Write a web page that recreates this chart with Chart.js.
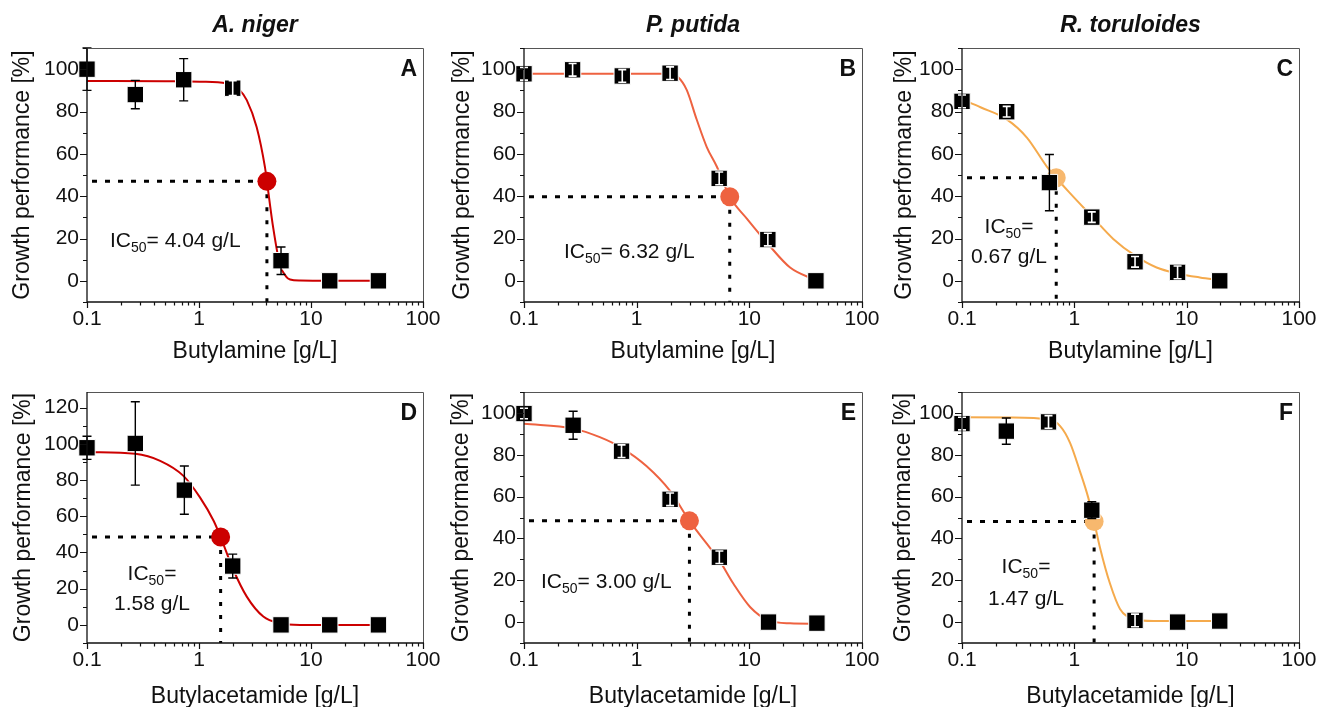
<!DOCTYPE html>
<html><head><meta charset="utf-8">
<script src="https://cdn.jsdelivr.net/npm/chart.js@4.4.1/dist/chart.umd.min.js"></script>
<style>
html,body{margin:0;padding:0;background:#fff;overflow:hidden;width:1319px;height:707px;position:relative;}
canvas{position:absolute;}
</style></head><body>
<canvas id="cA"></canvas><canvas id="cB"></canvas><canvas id="cC"></canvas>
<canvas id="cD"></canvas><canvas id="cE"></canvas><canvas id="cF"></canvas>
<script>
// ---------------- DATA ----------------
const colTitles = ['A. niger', 'P. putida', 'R. toruloides'];
const panelLetters = ['A', 'B', 'C', 'D', 'E', 'F'];
const xTitles = ['Butylamine [g/L]', 'Butylacetamide [g/L]'];
const yTitle = 'Growth performance [%]';

const xTickVals = [0.1,0.2,0.3,0.4,0.5,0.6,0.7,0.8,0.9,1,2,3,4,5,6,7,8,9,10,20,30,40,50,60,70,80,90,100];
const xLabelVals = [0.1, 1, 10, 100];
const xLabelText = ['0.1', '1', '10', '100'];
const yTickVals100 = [-10,0,10,20,30,40,50,60,70,80,90,100,110];
const yLabelVals100 = [0,20,40,60,80,100];
const yTickVals120 = [-10,0,10,20,30,40,50,60,70,80,90,100,110,120];
const yLabelVals120 = [0,20,40,60,80,100,120];

// A: A. niger / Butylamine
const concA = [0.1, 0.27, 0.73, 2.0, 5.4, 14.7, 40];
const growthA = [100, 88, 95, 91, 9.5, 0, 0];
const errA = [10, 6.7, 10, 3.5, 6.5, 0, 0];
const fitXA = [0.1, 0.5, 1.02, 1.76, 2.03, 2.3, 2.67, 3.27, 3.88, 4.04, 4.6, 5.28, 6.0, 6.5, 8, 15, 41];
const fitYA = [94.4, 94.3, 94.1, 93.3, 92.2, 90.2, 85.4, 72.7, 53.7, 47, 25, 7.6, 2.0, 0.6, 0.1, 0, 0];
const ic50A = [4.04, 47];
const ic50TextA = '4.04 g/L';

// B: P. putida / Butylamine
const concB = [0.1, 0.27, 0.745, 1.98, 5.4, 14.6, 39];
const growthB = [97.8, 99.7, 96.8, 98.1, 48.4, 19.5, 0];
const errB = [3, 3, 3, 3, 3, 3, 0];
const fitXB = [0.1, 1, 2.0, 2.3, 2.78, 3.41, 4.19, 5.14, 6.7, 9.5, 14.6, 23, 37, 39];
const fitYB = [97.8, 97.8, 97.8, 96.5, 90.2, 76.2, 63.2, 54, 39.7, 29.4, 17.5, 6.3, 0.8, 0.3];
const ic50B = [6.7, 39.7];
const ic50TextB = '6.32 g/L';

// C: R. toruloides / Butylamine
const concC = [0.1, 0.25, 0.6, 1.43, 3.47, 8.3, 19.7];
const growthC = [84.8, 79.9, 46.4, 30.1, 9.0, 4.0, 0];
const errC = [3, 2.5, 13.3, 2.5, 2.5, 3, 0];
const fitXC = [0.1, 0.146, 0.25, 0.378, 0.569, 0.69, 0.893, 1.43, 2.22, 3.47, 5.4, 8.3, 13.1, 19.7];
const fitYC = [85.8, 82, 76.3, 67.7, 54, 48.7, 42, 30.5, 19.8, 11.9, 6.3, 3.5, 1.6, 0.3];
const ic50C = [0.69, 48.7];
const ic50TextC = '0.67 g/L';

// D: A. niger / Butylacetamide
const concD = [0.1, 0.27, 0.74, 2.0, 5.4, 14.7, 40];
const growthD = [97.8, 100.2, 74.4, 32.5, 0, 0, 0];
const errD = [6.4, 23, 13.3, 6.6, 0, 0, 0];
const fitXD = [0.1, 0.27, 0.45, 0.726, 1.02, 1.35, 1.56, 2.03, 2.67, 3.75, 5.28, 8, 40];
const fitYD = [95.5, 94.5, 90.6, 82.3, 70.4, 57.5, 48.5, 30.3, 15.6, 4.6, 0.9, 0, 0];
const ic50D = [1.56, 48.5];
const ic50TextD = '1.58 g/L';

// E: P. putida / Butylacetamide
const concE = [0.1, 0.273, 0.734, 1.98, 5.42, 14.8, 39.8];
const growthE = [99.7, 94.1, 81.7, 58.7, 31, 0, -0.5];
const errE = [2.5, 6.7, 3, 3, 3, 0, 0];
const fitXE = [0.1, 0.273, 0.471, 0.734, 1.22, 1.98, 2.94, 4.19, 5.42, 7.23, 10.2, 14.8, 23, 40];
const fitYE = [94.8, 92.5, 88.4, 83.3, 74.6, 62.7, 48.4, 37.5, 29.5, 18.3, 7.1, 0.8, -0.6, -0.8];
const ic50E = [2.94, 48.4];
const ic50TextE = '3.00 g/L';

// F: R. toruloides / Butylacetamide
const concF = [0.1, 0.248, 0.589, 1.43, 3.47, 8.3, 19.7];
const growthF = [94.9, 91.3, 95.7, 53.5, 0.8, 0, 0.5];
const errF = [3, 6.3, 3, 4, 3, 0, 0];
const fitXF = [0.1, 0.27, 0.589, 0.748, 0.916, 1.12, 1.33, 1.50, 1.69, 2.08, 2.55, 3.35, 5.05, 19.7];
const fitYF = [97.9, 97.8, 96.8, 93.7, 85.7, 72.2, 59.5, 48.1, 35.7, 18.3, 6.3, 1.6, 0.5, 0.5];
const ic50F = [1.50, 48.1];
const ic50TextF = '1.47 g/L';

// ---------------- LAYOUT / STYLE ----------------
const FONT = '"Liberation Sans", Arial, Helvetica, sans-serif';
const RED = '#cc0000', ORR = '#ee6240', ORL = '#f5aa4c', ORL_DOT = '#f7b86e';

const panels = [
  {id:'cA', left:0,   top:0,   w:440, h:372, yW:87, padR:17, padT:48, xH:70, yTitlePad:9.2,  xTitlePad:6.2, yMin:-10, yMax:110,
   title:colTitles[0], letter:panelLetters[0], xTitle:xTitles[0], col:RED, dotCol:RED,
   conc:concA, growth:growthA, err:errA, fitX:fitXA, fitY:fitYA, ic:ic50A, icText:ic50TextA, yt:yTickVals100, yl:yLabelVals100,
   ann:{mode:'one', dx:23, dy:199}},
  {id:'cB', left:440, top:0,   w:440, h:372, yW:84, padR:18, padT:48, xH:70, yTitlePad:9.2,  xTitlePad:6.2, yMin:-10, yMax:110,
   title:colTitles[1], letter:panelLetters[1], xTitle:xTitles[0], col:ORR, dotCol:ORR,
   conc:concB, growth:growthB, err:errB, fitX:fitXB, fitY:fitYB, ic:ic50B, icText:ic50TextB, yt:yTickVals100, yl:yLabelVals100,
   ann:{mode:'one', dx:40, dy:210}},
  {id:'cC', left:880, top:0,   w:439, h:372, yW:82, padR:20, padT:48, xH:70, yTitlePad:11.2, xTitlePad:6.2, yMin:-10, yMax:110,
   title:colTitles[2], letter:panelLetters[2], xTitle:xTitles[0], col:ORL, dotCol:ORL_DOT,
   conc:concC, growth:growthC, err:errC, fitX:fitXC, fitY:fitYC, ic:ic50C, icText:ic50TextC, yt:yTickVals100, yl:yLabelVals100,
   ann:{mode:'two', cx:47, dy1:185, dy2:215}},
  {id:'cD', left:0,   top:340, w:440, h:380, yW:87, padR:17, padT:52, xH:77, yTitlePad:10.2, xTitlePad:9.2, yMin:-10, yMax:128.6,
   title:null, letter:panelLetters[3], xTitle:xTitles[1], col:RED, dotCol:RED,
   conc:concD, growth:growthD, err:errD, fitX:fitXD, fitY:fitYD, ic:ic50D, icText:ic50TextD, yt:yTickVals120, yl:yLabelVals120,
   ann:{mode:'two', cx:65, dy1:188, dy2:218}},
  {id:'cE', left:440, top:340, w:440, h:380, yW:84, padR:18, padT:52, xH:77, yTitlePad:8.2,  xTitlePad:9.2, yMin:-10, yMax:110,
   title:null, letter:panelLetters[4], xTitle:xTitles[1], col:ORR, dotCol:ORR,
   conc:concE, growth:growthE, err:errE, fitX:fitXE, fitY:fitYE, ic:ic50E, icText:ic50TextE, yt:yTickVals100, yl:yLabelVals100,
   ann:{mode:'one', dx:17, dy:196}},
  {id:'cF', left:880, top:340, w:439, h:380, yW:82, padR:20, padT:52, xH:77, yTitlePad:10.2, xTitlePad:9.2, yMin:-10, yMax:110,
   title:null, letter:panelLetters[5], xTitle:xTitles[1], col:ORL, dotCol:ORL_DOT,
   conc:concF, growth:growthF, err:errF, fitX:fitXF, fitY:fitYF, ic:ic50F, icText:ic50TextF, yt:yTickVals100, yl:yLabelVals100,
   ann:{mode:'two', cx:64, dy1:181, dy2:213}}
];

const SQ_R = 11.6; // rect point radius -> side ~16.4px

function drawIC(ctx, x, y, align, post) {
  const big = '21px ' + FONT, small = '14px ' + FONT;
  ctx.font = big;
  const w1 = ctx.measureText('IC').width, w3 = ctx.measureText(post).width;
  ctx.font = small;
  const w2 = ctx.measureText('50').width;
  const sx = align === 'center' ? x - (w1 + w2 + w3) / 2 : x;
  ctx.textAlign = 'left'; ctx.textBaseline = 'alphabetic'; ctx.fillStyle = '#111';
  ctx.font = big; ctx.fillText('IC', sx, y);
  ctx.font = small; ctx.fillText('50', sx + w1, y + 5);
  ctx.font = big; ctx.fillText(post, sx + w1 + w2, y);
}

const decor = {
  id: 'decor',
  afterDatasetsDraw(chart) {
    const p = chart.options.plugins.decor.panel;
    const ctx = chart.ctx;
    const xs = chart.scales.x, ys = chart.scales.y;
    ctx.save();
    // error bars
    for (let i = 0; i < p.conc.length; i++) {
      const e = p.err[i]; if (!e) continue;
      const px = xs.getPixelForValue(p.conc[i]);
      const yt = ys.getPixelForValue(p.growth[i] + e);
      const yb = ys.getPixelForValue(p.growth[i] - e);
      const half = (yb - yt) / 2;
      const inside = half <= SQ_R * Math.SQRT1_2 - 0.5;
      ctx.strokeStyle = inside ? '#fff' : '#000';
      ctx.lineWidth = inside ? 1.6 : 1.4;
      const cw = inside ? 4 : 4.5;
      ctx.beginPath();
      ctx.moveTo(px, yt); ctx.lineTo(px, yb);
      ctx.moveTo(px - cw, yt); ctx.lineTo(px + cw, yt);
      ctx.moveTo(px - cw, yb); ctx.lineTo(px + cw, yb);
      ctx.stroke();
    }
    ctx.restore();
  },
  afterDraw(chart) {
    const p = chart.options.plugins.decor.panel;
    const ctx = chart.ctx, ca = chart.chartArea;
    const xs = chart.scales.x, ys = chart.scales.y;
    ctx.save();
    // frame
    ctx.lineWidth = 1;
    ctx.strokeStyle = '#555';
    ctx.beginPath();
    ctx.moveTo(ca.left, ca.top + 0.5); ctx.lineTo(ca.right + 0.5, ca.top + 0.5); ctx.lineTo(ca.right + 0.5, ca.bottom);
    ctx.stroke();
    ctx.strokeStyle = '#111'; ctx.lineWidth = 1.3;
    ctx.beginPath();
    ctx.moveTo(ca.left, ca.top); ctx.lineTo(ca.left, ca.bottom); ctx.lineTo(ca.right + 1, ca.bottom);
    ctx.stroke();
    // ticks
    ctx.lineWidth = 1.2;
    ctx.beginPath();
    p.yt.forEach(v => {
      const py = Math.round(ys.getPixelForValue(v)) + 0.5;
      const len = p.yl.includes(v) ? 7 : 4;
      ctx.moveTo(ca.left, py); ctx.lineTo(ca.left - len, py);
    });
    xTickVals.forEach(v => {
      const px = Math.round(xs.getPixelForValue(v)) + 0.5;
      const len = xLabelVals.some(m => Math.abs(m - v) / m < 1e-6) ? 6 : 3.5;
      ctx.moveTo(px, ca.bottom); ctx.lineTo(px, ca.bottom + len);
    });
    ctx.stroke();
    // column title
    if (p.title) {
      ctx.fillStyle = '#111';
      ctx.font = 'italic bold 23px ' + FONT;
      ctx.textAlign = 'center'; ctx.textBaseline = 'middle';
      ctx.fillText(p.title, (ca.left + ca.right) / 2, 26 - p.top);
    }
    // panel letter
    ctx.fillStyle = '#111';
    ctx.font = 'bold 23px ' + FONT;
    ctx.textAlign = 'right'; ctx.textBaseline = 'alphabetic';
    ctx.fillText(p.letter, ca.right - 6, ca.top + 28);
    // IC50 annotation
    const a = p.ann;
    if (a.mode === 'one') {
      drawIC(ctx, ca.left + a.dx, ca.top + a.dy, 'left', '= ' + p.icText);
    } else {
      drawIC(ctx, ca.left + a.cx, ca.top + a.dy1, 'center', '=');
      ctx.font = '21px ' + FONT; ctx.textAlign = 'center'; ctx.fillStyle = '#111';
      ctx.fillText(p.icText, ca.left + a.cx, ca.top + a.dy2);
    }
    ctx.restore();
  }
};

panels.forEach(p => {
  const cv = document.getElementById(p.id);
  cv.width = p.w; cv.height = p.h;
  cv.style.left = p.left + 'px'; cv.style.top = p.top + 'px';
  cv.style.width = p.w + 'px'; cv.style.height = p.h + 'px';
  const pts = p.conc.map((c, i) => ({x: c, y: p.growth[i]}));
  const fit = p.fitX.map((c, i) => ({x: c, y: p.fitY[i]}));
  new Chart(cv, {
    type: 'line',
    data: {
      datasets: [
        {data: pts, showLine: false, pointStyle: 'rect', pointRadius: SQ_R, pointHoverRadius: SQ_R,
         pointBackgroundColor: '#000', pointBorderColor: '#fff', pointBorderWidth: 1, clip: false},
        {data: [{x: p.ic[0], y: p.ic[1]}], showLine: false, pointStyle: 'circle', pointRadius: 9.5,
         pointBackgroundColor: p.dotCol, pointBorderColor: p.dotCol, pointBorderWidth: 0, clip: false},
        {data: fit, borderColor: p.col, borderWidth: 2, pointRadius: 0, cubicInterpolationMode: 'monotone', fill: false},
        {data: [{x: xLabelVals[0], y: p.ic[1]}, {x: p.ic[0], y: p.ic[1]}], borderColor: '#000', borderWidth: 3,
         borderDash: [5, 8], borderDashOffset: 8, pointRadius: 0, fill: false},
        {data: [{x: p.ic[0], y: p.ic[1]}, {x: p.ic[0], y: p.yMin}], borderColor: '#000', borderWidth: 3,
         borderDash: [4, 9], borderDashOffset: 0, pointRadius: 0, fill: false}
      ]
    },
    options: {
      responsive: false, animation: false, devicePixelRatio: 1,
      layout: {padding: {left: 0, right: p.padR, top: p.padT, bottom: 0}},
      plugins: {legend: {display: false}, tooltip: {enabled: false}, title: {display: false}, decor: {panel: p}},
      scales: {
        x: {
          type: 'logarithmic', min: 0.1, max: 100,
          grid: {display: false, drawTicks: false}, border: {display: false},
          ticks: {autoSkip: false, maxRotation: 0, padding: 5, color: '#111', font: {family: FONT, size: 21},
            callback: (v) => { const i = xLabelVals.findIndex(m => Math.abs(m - v) / m < 1e-6); return i >= 0 ? xLabelText[i] : ''; }},
          title: {display: true, text: p.xTitle, color: '#111', font: {family: FONT, size: 23}, padding: {top: 0, bottom: p.xTitlePad}},
          afterBuildTicks: s => { s.ticks = xTickVals.map(v => ({value: v})); },
          afterFit: s => { s.height = p.xH; s.paddingLeft = 0; s.paddingRight = 0; }
        },
        y: {
          type: 'linear', min: p.yMin, max: p.yMax,
          grid: {display: false, drawTicks: false}, border: {display: false},
          ticks: {autoSkip: false, padding: 8, color: '#111', font: {family: FONT, size: 21},
            callback: (v) => p.yl.includes(v) ? String(v) : ''},
          title: {display: true, text: yTitle, color: '#111', font: {family: FONT, size: 23}, padding: {top: p.yTitlePad, bottom: 0}},
          afterBuildTicks: s => { s.ticks = p.yt.map(v => ({value: v})); },
          afterFit: s => { s.width = p.yW; s.paddingTop = 0; s.paddingBottom = 0; }
        }
      }
    },
    plugins: [decor]
  });
});
</script>
</body></html>
